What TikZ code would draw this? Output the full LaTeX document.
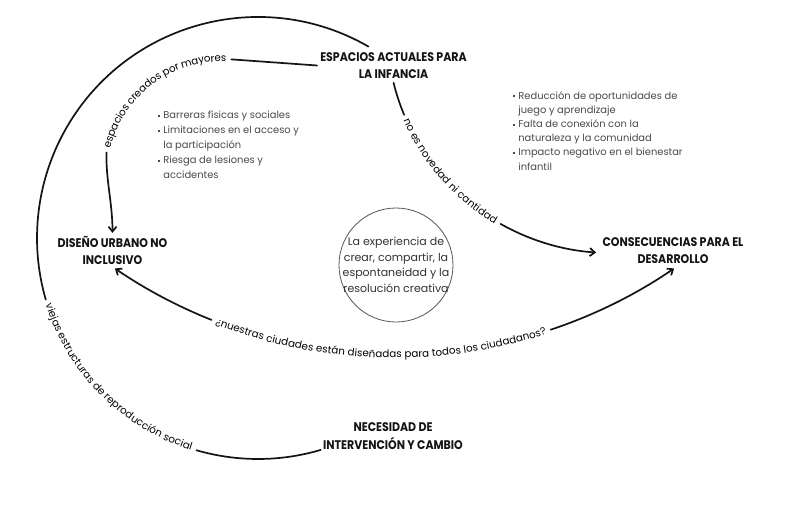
\documentclass[tikz,border=0pt]{standalone}
\usepackage{fontspec}
\setmainfont{Poppins}
\newfontfamily\ttlfamily{Poppins}[FakeStretch=0.88]
\usetikzlibrary{decorations.text,arrows.meta,calc}
\definecolor{ink}{HTML}{141414}
\definecolor{bodyc}{HTML}{333333}
\definecolor{listc}{HTML}{4a4a4a}
\definecolor{lblc}{HTML}{262626}
\definecolor{circc}{HTML}{555555}
\newcommand\ttlf{\ttlfamily\bfseries\fontsize{12.5}{17.3}\selectfont}
\newcommand\bodyf{\fontsize{11}{15.5}\selectfont}
\newcommand\listf{\fontsize{9.9}{15}\selectfont}
\newcommand\listg{\fontsize{9.9}{14.2}\selectfont}
\newcommand\lblf{\fontsize{10.3}{12}\selectfont}
\newcommand\blt{\raisebox{1.8pt}{\rule{1.9pt}{1.9pt}}\hspace{3.3pt}}
\newcommand\bind{\hspace*{5.2pt}}
\newdimen\wBig \newdimen\wNue \newdimen\wNov \newdimen\wEsp
\begin{document}
\settowidth\wBig{\lblf viejas estructuras de reproducción social}%
\settowidth\wNue{\lblf ¿nuestras ciudades están diseñadas para todos los ciudadanos?}%
\settowidth\wNov{\lblf no es novedad ni cantidad}%
\settowidth\wEsp{\lblf espacios creados por mayores}%
\pgfmathsetmacro\hBig{deg(0.5*\the\wBig/221)}%
\pgfmathsetmacro\gBig{deg(5/221)}%
\pgfmathsetmacro\mBig{deg(2/221)}%
\pgfmathsetmacro\hNue{deg(0.5*\the\wNue/495)}%
\pgfmathsetmacro\gNue{deg(5/495)}%
\pgfmathsetmacro\mNue{deg(2/495)}%
\pgfmathsetmacro\hNov{deg(0.5*\the\wNov/224)}%
\pgfmathsetmacro\gNov{deg(5/224)}%
\pgfmathsetmacro\mNov{deg(2/224)}%
\pgfmathsetmacro\hEsp{deg(0.5*\the\wEsp/118)}%
\pgfmathsetmacro\gEsp{deg(5/118)}%
\pgfmathsetmacro\mEsp{deg(2/118)}%
\pgfmathsetmacro\bA{225-\hBig-\mBig}\pgfmathsetmacro\bD{2*(\hBig+\mBig)}%
\pgfmathsetmacro\nA{268.35-\hNue-\mNue}\pgfmathsetmacro\nD{2*(\hNue+\mNue)}%
\pgfmathsetmacro\vA{221.5-\hNov-\mNov}\pgfmathsetmacro\vD{2*(\hNov+\mNov)}%
\pgfmathsetmacro\eA{126.75+\hEsp+\mEsp}\pgfmathsetmacro\eD{-2*(\hEsp+\mEsp)}%
\begin{tikzpicture}[x=1pt,y=1pt,
  ttl/.style={font=\ttlf, text=ink, align=center, inner sep=3pt},
  conn/.style={line width=1.7pt, draw=ink, line cap=round},
  tip/.style={-{Straight Barb[length=5pt,width=8pt]}},
  pit/.style={{Straight Barb[length=5pt,width=8pt]}-},
  lst/.style={anchor=north west, align=left, text=listc, inner sep=0pt}]
\fill[white] (0,0) rectangle (786,504);
\useasboundingbox (0,0) rectangle (786,504);

% titles
\node[ttl] (esp) at (393.5,438.5) {ESPACIOS ACTUALES PARA\\LA INFANCIA};
\node[ttl] (dis) at (112.5,253.5) {DISEÑO URBANO NO\\INCLUSIVO};
\node[ttl] (con) at (673,253.5) {CONSECUENCIAS PARA EL\\DESARROLLO};
\node[ttl] (nec) at (393,68) {NECESIDAD DE\\INTERVENCIÓN Y CAMBIO};

% centre circle
\node[circle, draw=circc, line width=0.8pt, minimum size=114pt, inner sep=0pt] (ring) at (396,239) {};
\node[align=center, font=\bodyf, text=bodyc, inner sep=0pt] (exp) at (ring.center) {La experiencia de\\crear, compartir, la\\espontaneidad y la\\resolución creativa};

% lists
\node[lst, font=\listf] (l1) at (158,393) {\blt Barreras físicas y sociales\\ \blt Limitaciones en el acceso y\\ \bind la participación\\ \blt Riesga de lesiones y\\ \bind accidentes};
\node[lst, font=\listg] (l2) at (513,413) {\blt Reducción de oportunidades de\\ \bind juego y aprendizaje\\ \blt Falta de conexión con la\\ \bind naturaleza y la comunidad\\ \blt Impacto negativo en el bienestar\\ \bind infantil};

% big outer arc
\coordinate (cB) at (258,266);
\draw[conn] ($(cB)+(60:221)$) arc[start angle=60, end angle={225-\hBig-\gBig}, radius=221];
{\lblf\color{lblc}
\path[decorate, decoration={text along path, text={viejas estructuras de reproducción social}, text align={center}, raise=-1.5pt}]
  plot[domain=0:1, samples=120, variable=\t] ({258+221*cos(\bA+\bD*\t)}, {266+221*sin(\bA+\bD*\t)});
}
\draw[conn] ($(cB)+({225+\hBig+\gBig}:221)$) arc[start angle={225+\hBig+\gBig}, end angle=286.5, radius=221];

% nuestras ciudades
\coordinate (cN) at (394.5,644);
\draw[conn, pit] ($(cN)+(235.6:495)$) arc[start angle=235.6, end angle={268.35-\hNue-\gNue}, radius=495];
{\lblf\color{lblc}
\path[decorate, decoration={text along path, text={¿nuestras ciudades están diseñadas para todos los ciudadanos?}, text align={center}, raise=-3pt}]
  plot[domain=0:1, samples=160, variable=\t] ({394.5+495*cos(\nA+\nD*\t)}, {644+495*sin(\nA+\nD*\t)});
}
\draw[conn, tip] ($(cN)+({268.35+\hNue+\gNue}:495)$) arc[start angle={268.35+\hNue+\gNue}, end angle=304.4, radius=495];

% no es novedad
\coordinate (cV) at (611,475);
\draw[conn] ($(cV)+(193.9:224)$) arc[start angle=193.9, end angle={221.5-\hNov-\gNov}, radius=224];
{\lblf\color{lblc}
\path[decorate, decoration={text along path, text={no es novedad ni cantidad}, text align={center}, raise=-3pt}]
  plot[domain=0:1, samples=80, variable=\t] ({611+224*cos(\vA+\vD*\t)}, {475+224*sin(\vA+\vD*\t)});
}
\draw[conn, tip] ($(cV)+({221.5+\hNov+\gNov}:224)$) arc[start angle={221.5+\hNov+\gNov}, end angle=266.2, radius=224];

% espacios creados por mayores
\coordinate (cE) at (222,327);
\draw[conn] (esp.west) -- ($(cE)+({126.75-\hEsp-\gEsp}:118)$);
{\lblf\color{lblc}
\path[decorate, decoration={text along path, text={espacios creados por mayores}, text align={center}, raise=-2.5pt}]
  plot[domain=0:1, samples=90, variable=\t] ({222+118*cos(\eA+\eD*\t)}, {327+118*sin(\eA+\eD*\t)});
}
\draw[conn, tip] ($(cE)+({126.75+\hEsp+\gEsp}:118)$) .. controls +(-1,-26) and +(0,30) .. (dis.north);
\end{tikzpicture}
\end{document}
